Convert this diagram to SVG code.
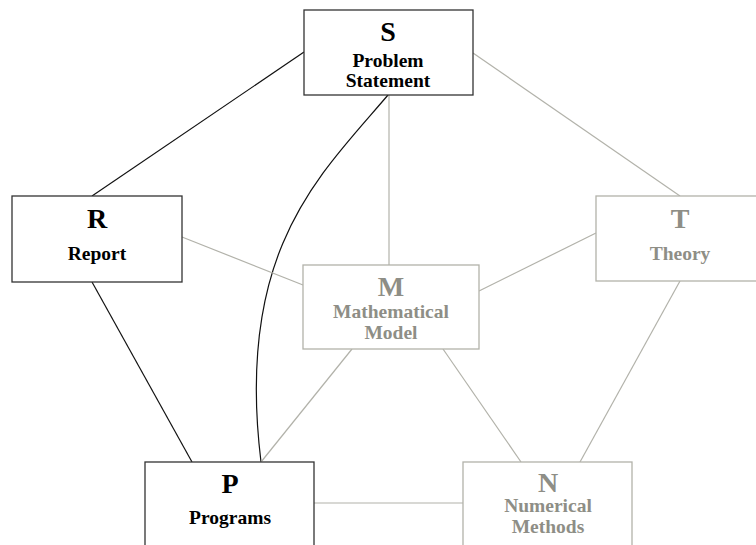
<svg xmlns="http://www.w3.org/2000/svg" width="756" height="545" viewBox="0 0 756 545">
<style>
.box{fill:#fff;stroke-width:1.3}
.dark{stroke:#333}
.light{stroke:#b2b2aa}
.big{font-family:"Liberation Serif","Times New Roman",serif;font-weight:bold;font-size:28px;text-anchor:middle}
.lbl{font-family:"Liberation Serif","Times New Roman",serif;font-weight:bold;font-size:19.5px;text-anchor:middle}
.tdark{fill:#000}
.tlight{fill:#8e8e86}
.c{fill:none;stroke-width:1.2}
.cd{stroke:#111}
.cl{stroke:#b2b2aa}
</style>
<rect width="756" height="545" fill="#fff"/>
<g id="connectors">
<line class="c cd" x1="304" y1="52" x2="92" y2="196"/>
<line class="c cl" x1="473" y1="53" x2="680" y2="196"/>
<line class="c cl" x1="389" y1="95" x2="389" y2="265"/>
<path class="c cd" d="M388,95 C320,175 235,250 261,462"/>
<line class="c cl" x1="182" y1="237" x2="303" y2="285"/>
<line class="c cl" x1="479" y1="291" x2="596" y2="233"/>
<line class="c cd" x1="92" y1="282" x2="192" y2="462"/>
<line class="c cl" x1="352" y1="349" x2="261" y2="462"/>
<line class="c cl" x1="443" y1="349" x2="521" y2="462"/>
<line class="c cl" x1="680" y1="281" x2="580" y2="462"/>
<line class="c cl" x1="314" y1="503" x2="463" y2="503"/>
</g>
<g id="S">
<rect class="box dark" x="304" y="10" width="169" height="85"/>
<text class="big tdark" x="388" y="41">S</text>
<text class="lbl tdark" x="388" y="67">Problem</text>
<text class="lbl tdark" x="388" y="87">Statement</text>
</g>
<g id="R">
<rect class="box dark" x="12" y="196" width="170" height="86"/>
<text class="big tdark" x="97" y="228">R</text>
<text class="lbl tdark" x="97" y="260">Report</text>
</g>
<g id="M">
<rect class="box light" x="303" y="265" width="176" height="84"/>
<text class="big tlight" x="391" y="296">M</text>
<text class="lbl tlight" x="391" y="318">Mathematical</text>
<text class="lbl tlight" x="391" y="339">Model</text>
</g>
<g id="T">
<rect class="box light" x="596" y="196" width="170" height="85"/>
<text class="big tlight" x="680" y="228">T</text>
<text class="lbl tlight" x="680" y="260">Theory</text>
</g>
<g id="P">
<rect class="box dark" x="145" y="462" width="169" height="86"/>
<text class="big tdark" x="230" y="493">P</text>
<text class="lbl tdark" x="230" y="524">Programs</text>
</g>
<g id="N">
<rect class="box light" x="463" y="462" width="169" height="86"/>
<text class="big tlight" x="548" y="492">N</text>
<text class="lbl tlight" x="548" y="512">Numerical</text>
<text class="lbl tlight" x="548" y="533">Methods</text>
</g>
</svg>
